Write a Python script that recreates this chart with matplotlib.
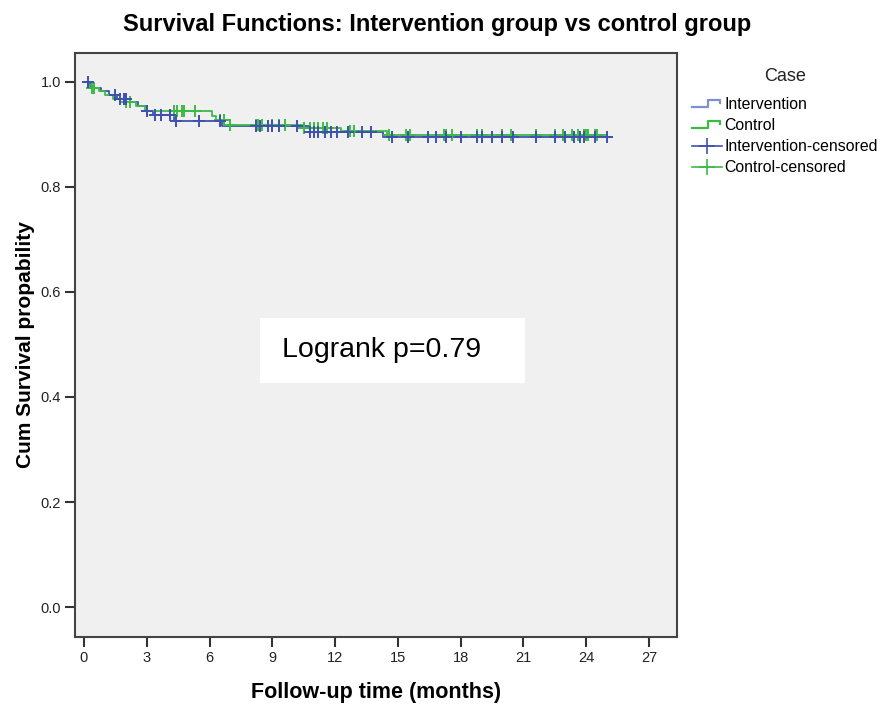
import matplotlib
matplotlib.use("Agg")
import matplotlib.pyplot as plt
from matplotlib.lines import Line2D
from matplotlib.legend_handler import HandlerBase
from matplotlib.patches import Rectangle

plt.rcParams['font.family'] = ['Liberation Sans', 'DejaVu Sans']

# ---- data ----
int_times = [0.0, 0.3, 0.5, 0.8, 1.2, 1.6, 2.2, 2.6, 3.0, 3.3, 4.3, 6.6, 10.8, 14.3]
int_surv  = [1.0, 0.993, 0.988, 0.982, 0.975, 0.968, 0.962, 0.955, 0.945, 0.936, 0.925, 0.916, 0.905, 0.896]
int_end = 25.2

ctl_times = [0.0, 0.2, 0.4, 0.7, 1.0, 1.4, 2.0, 2.5, 2.9, 6.1, 6.3, 7.0, 10.5, 12.3, 14.5]
ctl_surv  = [1.0, 0.995, 0.988, 0.982, 0.975, 0.968, 0.962, 0.955, 0.944, 0.935, 0.927, 0.918, 0.912, 0.906, 0.899]
ctl_end = 25.0

int_censor = [0.2, 1.5, 1.7, 1.9, 2.0, 3.0, 3.4, 3.7, 4.1, 4.4, 5.5, 6.5, 8.2, 8.4, 8.8, 9.0, 9.3,
              10.2, 10.8, 11.0, 11.2, 11.5, 11.8, 12.1, 12.6, 13.3, 13.7, 14.7, 15.5, 16.45, 16.8,
              17.3, 18.0, 18.8, 19.0, 19.5, 20.0, 20.5, 21.6, 22.5, 23.0, 23.4, 23.7, 23.9, 24.4, 25.0]
ctl_censor = [0.4, 0.5, 2.0, 2.2, 3.0, 4.3, 4.45, 4.7, 4.8, 5.3, 6.5, 6.7, 7.0, 8.2, 8.3, 8.5, 9.0,
              9.3, 9.6, 10.5, 10.8, 11.0, 11.2, 11.4, 11.6, 12.7, 12.9, 14.6, 15.4, 15.6, 17.2,
              17.3, 17.6, 18.8, 19.0, 20.0, 20.4, 21.6, 22.5, 22.9, 23.3, 23.6, 23.9, 24.0, 24.1,
              24.4, 24.5]

xticks = [0, 3, 6, 9, 12, 15, 18, 21, 24, 27]
yticks = [0.0, 0.2, 0.4, 0.6, 0.8, 1.0]

BLUE = '#3f50b2'
BLUE_LIGHT = '#7f8fd4'
GREEN = '#3dba46'


def surv_at(times, surv, t):
    s = surv[0]
    for ti, si in zip(times, surv):
        if ti <= t:
            s = si
    return s


class StepHandler(HandlerBase):
    def __init__(self, color):
        super().__init__()
        self.color = color

    def create_artists(self, legend, orig_handle, xdescent, ydescent, width, height, fontsize, trans):
        x0 = -xdescent
        y0 = -ydescent
        xs = [x0, x0 + width * 0.55, x0 + width * 0.55, x0 + width * 0.95, x0 + width * 0.95]
        ys = [y0 + height * 0.2, y0 + height * 0.2, y0 + height * 0.8, y0 + height * 0.8, y0 + height * 0.55]
        ln = Line2D(xs, ys, color=self.color, lw=1.6, transform=trans)
        return [ln]


fig = plt.figure(figsize=(8.83, 7.04), dpi=100)
ax = fig.add_axes([75 / 883, 1 - 637 / 704, (677 - 75) / 883, (637 - 53) / 704])
ax.set_facecolor('#f0f0f0')

# curves
ax.step(int_times + [int_end], int_surv + [int_surv[-1]], where='post', color=BLUE, lw=1.3, zorder=3)
ax.step(ctl_times + [ctl_end], ctl_surv + [ctl_surv[-1]], where='post', color=GREEN, lw=1.3, zorder=3)

ax.plot(ctl_censor, [surv_at(ctl_times, ctl_surv, t) for t in ctl_censor], ls='none', marker='+',
        ms=8, mew=1.4, color=GREEN, zorder=4)
ax.plot(int_censor, [surv_at(int_times, int_surv, t) for t in int_censor], ls='none', marker='+',
        ms=8, mew=1.4, color=BLUE, zorder=4)

ax.set_xlim(-0.43, 28.34)
ax.set_ylim(-0.057, 1.055)
ax.set_xticks(xticks)
ax.set_xticklabels([str(v) for v in xticks])
ax.set_yticks(yticks)
ax.set_yticklabels([f'{v:.1f}' for v in yticks])
ax.tick_params(direction='out', length=7, width=1.5, color='#333333', labelsize=10.5,
               labelcolor='#222222', pad=3)
for s in ax.spines.values():
    s.set_color('#444444')
    s.set_linewidth(1.5)

ax.set_xlabel('Follow-up time (months)', fontsize=15.5, fontweight='bold', labelpad=12)
ax.set_ylabel('Cum Survival propability', fontsize=15, fontweight='bold', va='center')
ax.yaxis.set_label_coords(-0.083, 0.5)
fig.suptitle('Survival Functions: Intervention group vs control group', fontsize=17,
             fontweight='bold', x=0.495, y=0.982)

# logrank box
ax.add_patch(Rectangle((8.41, 0.4267), 21.07 - 8.41, 0.5505 - 0.4267, facecolor='white',
                       edgecolor='none', zorder=5))
ax.text(9.45, 0.489, 'Logrank p=0.79', fontsize=20.5, va='center', ha='left', zorder=6)

# legend
h1 = Line2D([], [], color=BLUE_LIGHT)
h2 = Line2D([], [], color=GREEN)
h3 = Line2D([], [], color=BLUE, marker='+', ms=12, mew=1.2, lw=1.2)
h4 = Line2D([], [], color=GREEN, marker='+', ms=12, mew=1.2, lw=1.2)
leg = fig.legend([h1, h2, h3, h4], ['Intervention', 'Control', 'Intervention-censored', 'Control-censored'],
                 loc='upper left', bbox_to_anchor=(679 / 883, 1 - 55 / 704), frameon=False,
                 title='Case', fontsize=11.4, title_fontsize=13, handlelength=1.9, handletextpad=0.15,
                 labelspacing=0.38, borderpad=0.3,
                 handler_map={h1: StepHandler(BLUE_LIGHT), h2: StepHandler(GREEN)})
leg.get_title().set_color('#222222')
leg._legend_box.sep = 9

fig.savefig('out.png', dpi=100, facecolor='white')
